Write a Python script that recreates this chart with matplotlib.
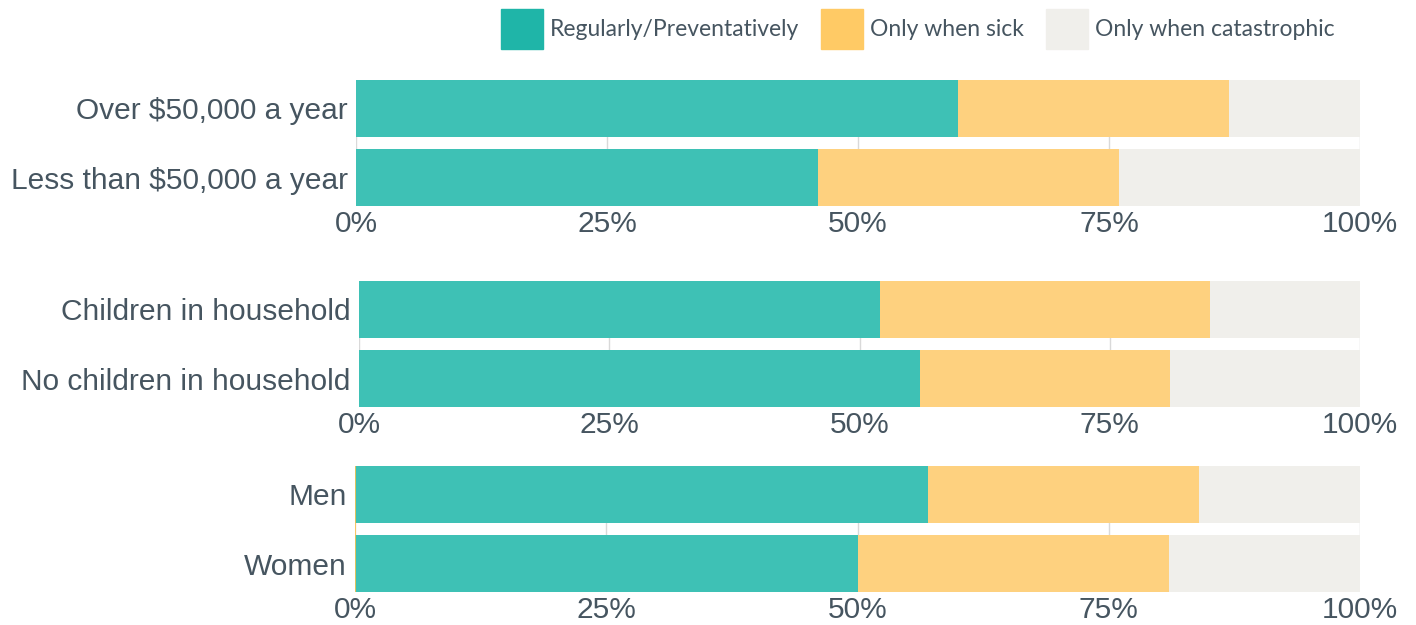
import matplotlib.pyplot as plt
from matplotlib.patches import Patch

# ---------------- data ----------------
panel1_labels = ["Over $50,000 a year", "Less than $50,000 a year"]
panel1_regular = [60, 46]
panel1_sick = [27, 30]

panel2_labels = ["Children in household", "No children in household"]
panel2_regular = [52, 56]
panel2_sick = [33, 25]

panel3_labels = ["Men", "Women"]
panel3_regular = [57, 50]
panel3_sick = [27, 31]

series_names = ["Regularly/Preventatively", "Only when sick", "Only when catastrophic"]
tick_vals = [0, 25, 50, 75, 100]
tick_labels = ["0%", "25%", "50%", "75%", "100%"]

# ---------------- style ----------------
TEAL = "#3EC1B5"
YELLOW = "#FED17F"
GRAY = "#F0EFEB"
TEXT = "#465560"
GRID = "#D9D9D9"

W, H = 1416, 625
fig = plt.figure(figsize=(W / 100, H / 100), dpi=100)

# axes boxes in pixels: left, top, right, bottom
boxes = [(356, 80, 1360, 206), (359, 281, 1360, 407), (355, 466, 1360, 592)]
panels = [
    (panel1_labels, panel1_regular, panel1_sick),
    (panel2_labels, panel2_regular, panel2_sick),
    (panel3_labels, panel3_regular, panel3_sick),
]

for i, ((l, t, r, b), (labels, reg, sick)) in enumerate(zip(boxes, panels)):
    ax = fig.add_axes([l / W, 1 - b / H, (r - l) / W, (b - t) / H])
    ypos = list(range(len(labels)))
    cat = [100 - a - s for a, s in zip(reg, sick)]
    left2 = reg
    left3 = [a + s for a, s in zip(reg, sick)]
    h = 0.826
    ax.barh(ypos, reg, height=h, color=TEAL, zorder=2)
    ax.barh(ypos, sick, left=left2, height=h, color=YELLOW, zorder=2)
    ax.barh(ypos, cat, left=left3, height=h, color=GRAY, zorder=2)
    ax.set_xlim(0, 100)
    ax.set_ylim(len(labels) - 1 + h / 2, -h / 2)
    ax.set_yticks(ypos)
    ax.set_yticklabels(labels, fontsize=21.5, color=TEXT, family="Liberation Sans")
    ax.set_xticks(tick_vals)
    ax.set_xticklabels(tick_labels, fontsize=21.5, color=TEXT, family="Liberation Sans")
    ax.tick_params(axis="y", length=0, pad=6)
    ax.tick_params(axis="x", length=0, pad=3)
    ax.grid(axis="x", color=GRID, linewidth=1, zorder=0)
    for s in ax.spines.values():
        s.set_visible(False)
    if i == 2:
        ax.axvline(0, color="#FFC34D", linewidth=1.2, zorder=3)

# ---------------- legend ----------------
handles = [Patch(color=c) for c in ["#1FB5A8", "#FFCA65", GRAY]]
leg = fig.legend(handles, series_names, loc="upper right", bbox_to_anchor=(1344 / W, 1.0),
                 ncol=3, frameon=False, prop={"family": "Lato", "size": 16.5},
                 handlelength=1.85, handleheight=2.3, handletextpad=0.3, columnspacing=0.95,
                 borderaxespad=0)
for txt in leg.get_texts():
    txt.set_color(TEXT)

fig.savefig("out.png", dpi=100)
